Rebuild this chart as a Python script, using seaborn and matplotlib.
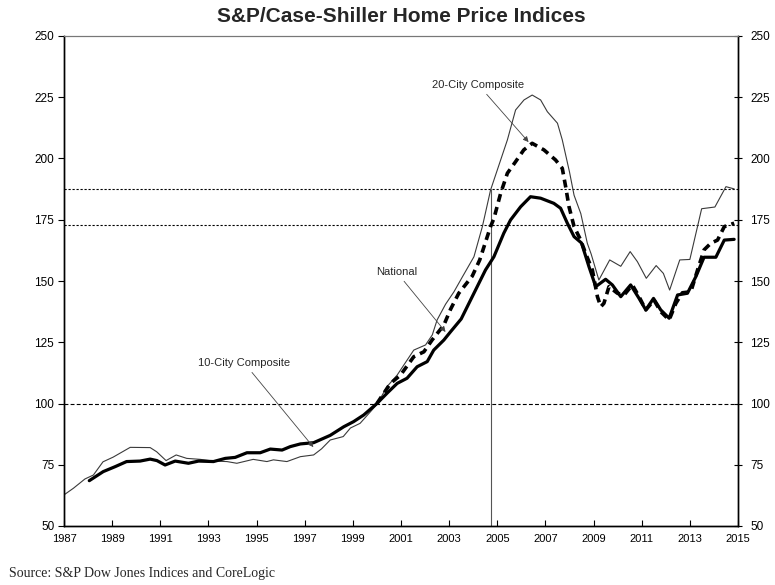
import matplotlib
matplotlib.use('Agg')
import matplotlib.pyplot as plt
import seaborn as sns
import pandas as pd

# ---------------- data ----------------
ten_x = [1987.0, 1987.39, 1987.87, 1988.22, 1988.62, 1989.04, 1989.75, 1990.58, 1990.85,
         1991.24, 1991.66, 1992.10, 1992.66, 1993.2, 1993.77, 1994.18, 1994.86, 1995.43,
         1995.70, 1996.26, 1996.82, 1997.37, 1997.7, 1998.06, 1998.6, 1998.9, 1999.3,
         2000.0, 2000.42, 2000.84, 2001.53, 2002.02, 2002.3, 2002.5, 2002.85, 2003.2,
         2003.54, 2004.03, 2004.38, 2004.72, 2005.0, 2005.42, 2005.76, 2006.11, 2006.45,
         2006.8, 2007.08, 2007.5, 2007.7, 2008.0, 2008.19, 2008.47, 2008.74, 2008.9,
         2009.22, 2009.67, 2010.13, 2010.52, 2010.82, 2011.19, 2011.6, 2011.9, 2012.16,
         2012.58, 2013.0, 2013.49, 2014.04, 2014.5, 2014.84]
ten_y = [62.7, 65.4, 69.2, 70.8, 76.2, 78.1, 82.1, 82.0, 80.3,
         76.7, 79.0, 77.6, 77.2, 76.5, 76.3, 75.6, 77.2, 76.3,
         77.0, 76.3, 78.3, 79.0, 81.5, 85.1, 86.5, 90.0, 91.9,
         99.6, 106.9, 111.6, 121.8, 123.9, 128.0, 134.1, 140.5, 145.6,
         151.5, 159.9, 172.2, 187.1, 195.3, 207.6, 219.8, 223.9, 225.9,
         223.9, 219.1, 214.4, 207.6, 194.5, 185.0, 177.5, 165.4, 161.0,
         150.4, 158.6, 156.0, 162.0, 157.9, 151.1, 156.3, 153.1, 146.3,
         158.6, 158.8, 179.5, 180.2, 188.5, 187.6]

nat_x = [1988.05, 1988.63, 1989.12, 1989.6, 1990.16, 1990.58, 1990.86, 1991.2, 1991.62,
         1992.17, 1992.59, 1993.21, 1993.7, 1994.11, 1994.6, 1995.15, 1995.57, 1996.06,
         1996.4, 1996.82, 1997.37, 1998.06, 1998.62, 1999.03, 1999.45, 2000.0, 2000.42,
         2000.84, 2001.25, 2001.67, 2002.09, 2002.36, 2002.78, 2003.06, 2003.5, 2004.03,
         2004.51, 2004.86, 2005.27, 2005.55, 2005.97, 2006.38, 2006.8, 2007.35, 2007.63,
         2007.91, 2008.19, 2008.5, 2008.81, 2009.09, 2009.5, 2009.78, 2010.13, 2010.54,
         2010.89, 2011.17, 2011.49, 2011.79, 2012.14, 2012.49, 2012.9, 2013.25, 2013.59,
         2014.08, 2014.43, 2014.84]
nat_y = [68.5, 72.2, 74.2, 76.3, 76.5, 77.3, 76.7, 74.9, 76.5,
         75.6, 76.5, 76.3, 77.6, 78.0, 79.9, 79.9, 81.4, 81.0,
         82.4, 83.5, 84.0, 87.0, 90.5, 92.6, 95.3, 100.0, 104.2,
         108.2, 110.3, 115.0, 117.1, 121.8, 125.9, 129.3, 134.5, 145.0,
         154.5, 159.9, 169.5, 174.9, 180.3, 184.4, 183.8, 181.7, 179.7,
         173.6, 168.1, 165.5, 155.8, 147.7, 150.7, 148.4, 143.6, 148.4,
         142.9, 138.2, 142.9, 138.2, 134.8, 144.3, 145.0, 151.8, 159.7,
         159.7, 166.7, 167.0]

twenty_x = [2000.0, 2000.56, 2000.98, 2001.53, 2001.95, 2002.29, 2002.78, 2003.06, 2003.4,
            2003.96, 2004.27, 2004.72, 2004.86, 2005.14, 2005.42, 2005.76, 2006.1, 2006.45,
            2006.94, 2007.42, 2007.7, 2007.84, 2007.98, 2008.19, 2008.46, 2008.7, 2008.95,
            2009.16, 2009.3, 2009.43, 2009.64, 2009.99, 2010.27, 2010.61, 2010.89, 2011.17,
            2011.51, 2011.79, 2012.14, 2012.42, 2012.69, 2013.04, 2013.32, 2013.59, 2013.87,
            2014.15, 2014.43, 2014.84]
twenty_y = [100.0, 108.2, 111.6, 119.1, 121.1, 125.9, 132.0, 138.5, 145.0,
            152.0, 158.6, 172.2, 175.5, 185.8, 194.0, 198.7, 203.5, 206.2,
            203.5, 199.4, 196.0, 188.5, 180.3, 172.2, 166.8, 160.5, 154.5,
            143.6, 139.5, 140.9, 147.7, 145.0, 144.3, 148.4, 143.6, 138.2,
            142.2, 137.5, 134.1, 140.9, 145.2, 145.6, 154.5, 162.7, 165.4,
            166.7, 172.2, 173.6]

title = "S&P/Case-Shiller Home Price Indices"
source = "Source: S&P Dow Jones Indices and CoreLogic"
year_ticks = list(range(1987, 2016, 2))
value_ticks = list(range(50, 251, 25))
base_level = 100
latest_levels = [172.9, 187.6]
marker_year = 2004.75

# ---------------- plotting ----------------
sns.set_theme(style='white')
plt.rcParams['font.family'] = ['Liberation Sans', 'DejaVu Sans']

W, H = 775, 585
fig = plt.figure(figsize=(W / 100, H / 100), dpi=100)
L, R, T, B = 64, 738, 36, 526
ax = fig.add_axes([L / W, 1 - B / H, (R - L) / W, (B - T) / H])

df10 = pd.DataFrame({'year': ten_x, 'index': ten_y})
dfn = pd.DataFrame({'year': nat_x, 'index': nat_y})
df20 = pd.DataFrame({'year': twenty_x, 'index': twenty_y})

sns.lineplot(data=df10, x='year', y='index', ax=ax, color='#3a3a3a', linewidth=0.8,
             estimator=None, sort=False)
sns.lineplot(data=dfn, x='year', y='index', ax=ax, color='black', linewidth=2.3,
             estimator=None, sort=False)
sns.lineplot(data=df20, x='year', y='index', ax=ax, color='black', linewidth=2.6,
             estimator=None, sort=False)
ax.lines[-1].set_dashes([2.2, 1.5])

ax.axhline(base_level, color='black', linewidth=0.8, dashes=(3.5, 2.0), zorder=1)
for lv in latest_levels:
    ax.axhline(lv, color='black', linewidth=0.8, dashes=(2.0, 1.6), zorder=1)
ax.vlines(marker_year, value_ticks[0], max(latest_levels), color='#555555', linewidth=0.8, zorder=1)

ax.set_xlim(year_ticks[0], year_ticks[-1])
ax.set_ylim(value_ticks[0], value_ticks[-1])
ax.set_xticks(year_ticks)
ax.set_xticklabels([str(y) for y in year_ticks])
ax.set_yticks(value_ticks)
ax.set_xlabel('')
ax.set_ylabel('')
ax.tick_params(axis='x', direction='in', length=4, width=0.8, pad=6, labelsize=8, colors='black', bottom=True)
ax.tick_params(axis='y', direction='out', length=4, width=0.8, pad=3, labelsize=8.5, colors='black', left=True)

ax2 = ax.twinx()
ax2.set_ylim(value_ticks[0], value_ticks[-1])
ax2.set_yticks(value_ticks)
ax2.tick_params(axis='y', direction='inout', length=6, width=0.8, pad=6, labelsize=8.5, colors='black', right=True)
ax2.grid(False)

for a in (ax, ax2):
    for s in ('left', 'right', 'bottom'):
        a.spines[s].set_color('black')
        a.spines[s].set_linewidth(1.0)
    a.spines['top'].set_color('#777777')
    a.spines['top'].set_linewidth(0.8)

arrow = dict(arrowstyle='-|>', color='#444444', lw=0.6, mutation_scale=8, shrinkA=1, shrinkB=0)
ax.annotate('20-City Composite', xy=(2006.3, 206.7), xytext=(2004.22, 230.0),
            ha='center', va='center', fontsize=8, arrowprops=arrow)
ax.annotate('National', xy=(2002.85, 129.2), xytext=(2000.81, 153.7),
            ha='center', va='center', fontsize=8, arrowprops=arrow)
ax.annotate('10-City Composite', xy=(1997.36, 82.2), xytext=(1994.49, 116.5),
            ha='center', va='center', fontsize=8, arrowprops=arrow)

fig.text(401 / W, 1 - 16 / H, title, ha='center', va='center', fontsize=15, fontweight='bold')
fig.text(9 / W, 1 - 573 / H, source, ha='left', va='center', fontsize=10,
         family=['Liberation Serif', 'DejaVu Serif'])

fig.savefig('out.png', dpi=100, facecolor='white')
